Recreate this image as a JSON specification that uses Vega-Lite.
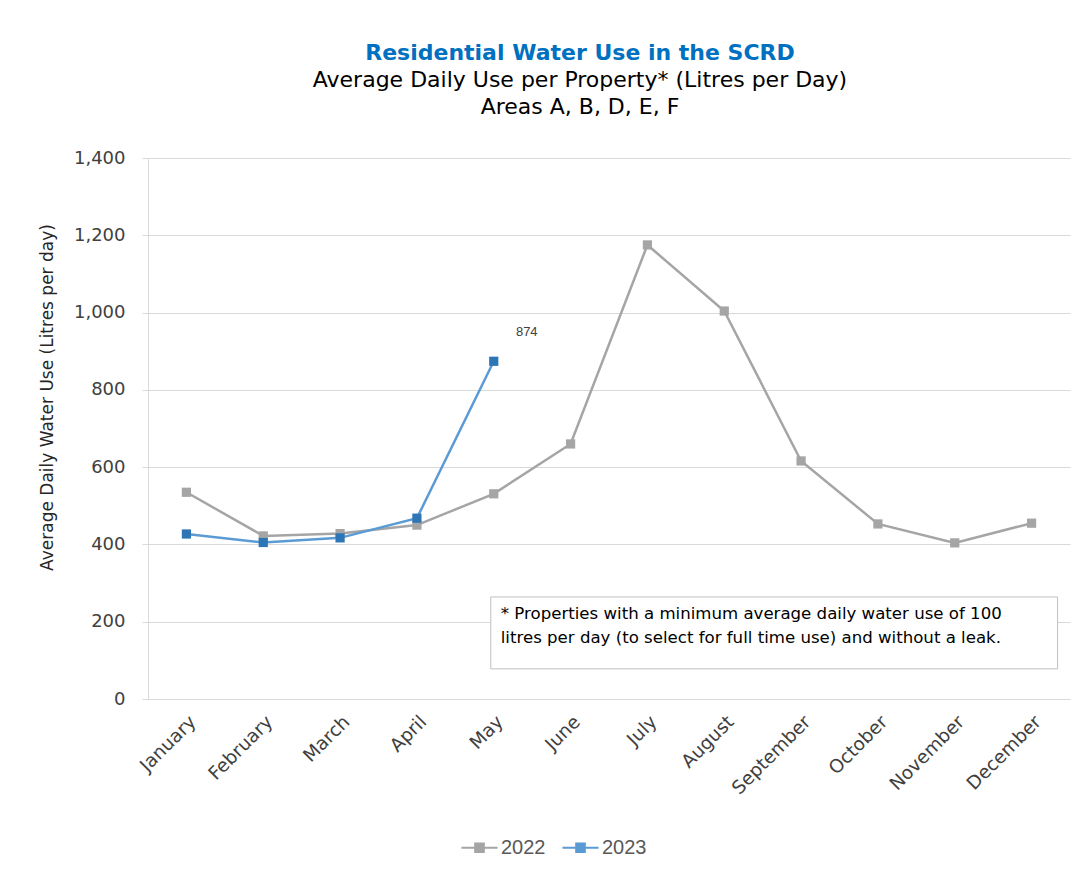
{
  "$schema": "https://vega.github.io/schema/vega-lite/v6.json",
  "autosize": {"type": "none"},
  "padding": {"left": 148, "top": 158, "right": 5, "bottom": 171},
  "width": 922,
  "height": 541,
  "background": "white",
  "title": {
    "text": "Residential Water Use in the SCRD",
    "subtitle": ["Average Daily Use per Property* (Litres per Day)", "Areas A, B, D, E, F"],
    "anchor": "middle",
    "dx": -29,
    "offset": 30,
    "font": "DejaVu Sans",
    "fontSize": 22,
    "fontWeight": "bold",
    "color": "#0070c0",
    "subtitleFont": "DejaVu Sans",
    "subtitleFontSize": 22,
    "subtitleColor": "#000000",
    "subtitleLineHeight": 27,
    "subtitlePadding": 5
  },
  "data": {
    "values": [
      {"month": "January", "year": "2022", "use": 535},
      {"month": "February", "year": "2022", "use": 422},
      {"month": "March", "year": "2022", "use": 428},
      {"month": "April", "year": "2022", "use": 450},
      {"month": "May", "year": "2022", "use": 531},
      {"month": "June", "year": "2022", "use": 660},
      {"month": "July", "year": "2022", "use": 1175},
      {"month": "August", "year": "2022", "use": 1004},
      {"month": "September", "year": "2022", "use": 616},
      {"month": "October", "year": "2022", "use": 453},
      {"month": "November", "year": "2022", "use": 404},
      {"month": "December", "year": "2022", "use": 455},
      {"month": "January", "year": "2023", "use": 427},
      {"month": "February", "year": "2023", "use": 405},
      {"month": "March", "year": "2023", "use": 417},
      {"month": "April", "year": "2023", "use": 468},
      {"month": "May", "year": "2023", "use": 874}
    ]
  },
  "encoding": {
    "x": {
      "field": "month",
      "type": "ordinal",
      "sort": null,
      "scale": {"paddingInner": 0, "paddingOuter": 0},
      "axis": {
        "title": null,
        "labelAngle": -45,
        "labelFont": "DejaVu Sans",
        "labelFontSize": 18.5,
        "labelColor": "#404040",
        "ticks": false,
        "domainColor": "#d9d9d9",
        "labelPadding": 13,
        "grid": false
      }
    },
    "y": {
      "field": "use",
      "type": "quantitative",
      "scale": {"domain": [0, 1400], "nice": false},
      "axis": {
        "title": "Average Daily Water Use (Litres per day)",
        "titleFont": "DejaVu Sans",
        "titleFontSize": 17,
        "titleFontWeight": "normal",
        "titleColor": "#262626",
        "titleX": -92,
        "titleY": 239,
        "values": [0, 200, 400, 600, 800, 1000, 1200, 1400],
        "format": ",d",
        "labelFont": "DejaVu Sans",
        "labelFontSize": 18,
        "labelColor": "#404040",
        "labelPadding": 17,
        "tickSize": 6,
        "tickColor": "#d9d9d9",
        "gridColor": "#d9d9d9",
        "domainColor": "#d9d9d9"
      }
    }
  },
  "layer": [
    {
      "mark": {"type": "line", "strokeWidth": 2.5},
      "encoding": {
        "color": {
          "field": "year",
          "type": "nominal",
          "scale": {"domain": ["2022", "2023"], "range": ["#a5a5a5", "#5b9bd5"]},
          "legend": {
            "title": null,
            "orient": "none",
            "direction": "horizontal",
            "legendX": 312,
            "legendY": 670,
            "symbolType": "M-1,0H1M-0.24,-0.24H0.24V0.24H-0.24Z",
            "symbolSize": 1300,
            "symbolStrokeWidth": 2,
            "labelFont": "Liberation Sans",
            "labelFontSize": 20,
            "labelColor": "#595959",
            "labelOffset": 2,
            "columnPadding": 12,
            "encode": {
              "symbols": {"update": {"fill": {"scale": "color", "field": "value"}}}
            }
          }
        }
      }
    },
    {
      "mark": {"type": "point", "shape": "square", "filled": true, "size": 85, "opacity": 1},
      "encoding": {
        "fill": {
          "field": "year",
          "type": "nominal",
          "scale": {"domain": ["2022", "2023"], "range": ["#a5a5a5", "#2e75b6"]},
          "legend": null
        }
      }
    },
    {
      "transform": [{"filter": "datum.year === '2023' && datum.month === 'May'"}],
      "mark": {"type": "text", "dx": 33, "dy": -29, "font": "Liberation Sans", "fontSize": 13, "color": "#404040"},
      "encoding": {"text": {"field": "use", "type": "quantitative"}}
    },
    {
      "transform": [{"filter": "datum.year === '2023' && datum.month === 'May'"}],
      "mark": {"type": "rect", "fill": "white", "stroke": "#bfbfbf", "strokeWidth": 1, "xOffset": -3, "x2Offset": 26},
      "encoding": {
        "x": {"datum": "May"},
        "x2": {"datum": "December"},
        "y": {"datum": 264},
        "y2": {"datum": 78}
      }
    },
    {
      "transform": [{"filter": "datum.year === '2023' && datum.month === 'May'"}],
      "mark": {
        "type": "text",
        "align": "left",
        "baseline": "top",
        "dx": 7,
        "font": "DejaVu Sans",
        "fontSize": 16.6,
        "lineHeight": 24,
        "color": "#000000",
        "text": [
          "* Properties with a minimum average daily water use of 100",
          "litres per day (to select for full time use) and without a leak."
        ]
      },
      "encoding": {
        "x": {"datum": "May"},
        "y": {"datum": 240}
      }
    }
  ],
  "resolve": {"scale": {"fill": "independent"}},
  "config": {
    "view": {"stroke": null},
    "font": "Liberation Sans"
  }
}
